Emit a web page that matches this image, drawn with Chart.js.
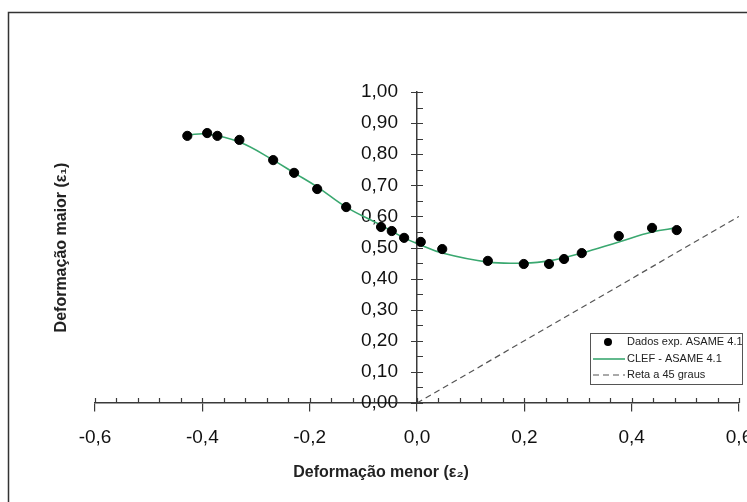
<!DOCTYPE html>
<html>
<head>
<meta charset="utf-8">
<script src="https://cdn.jsdelivr.net/npm/chart.js@4"></script>
<style>
  body { margin: 0; background: #fff; }
  #wrap { width: 747px; height: 502px; }
</style>
</head>
<body>
<div id="wrap"><canvas id="flcChart" width="747" height="502"></canvas></div>
<script>
// dados
const expX = [-0.428, -0.391, -0.372, -0.331, -0.268, -0.229, -0.186, -0.132, -0.067, -0.047, -0.024, 0.007, 0.047, 0.132, 0.199, 0.246, 0.274, 0.307, 0.376, 0.438, 0.484];
const expY = [0.859, 0.868, 0.859, 0.846, 0.781, 0.740, 0.688, 0.630, 0.566, 0.553, 0.531, 0.518, 0.495, 0.457, 0.447, 0.447, 0.463, 0.482, 0.537, 0.563, 0.556];

const clefX = [-0.428, -0.391, -0.331, -0.268, -0.229, -0.186, -0.132, -0.067, -0.024, 0.007, 0.047, 0.132, 0.199, 0.246, 0.307, 0.376, 0.438, 0.484];
const clefY = [0.862, 0.865, 0.839, 0.781, 0.740, 0.695, 0.630, 0.572, 0.531, 0.508, 0.482, 0.453, 0.450, 0.457, 0.482, 0.518, 0.550, 0.563];

const retaX = [0, 0.6];
const retaY = [0, 0.6];

const xTicks = [-0.6, -0.4, -0.2, 0, 0.2, 0.4, 0.6];
const yTicks = [0, 0.1, 0.2, 0.3, 0.4, 0.5, 0.6, 0.7, 0.8, 0.9, 1.0];

const labels = ["Dados exp. ASAME 4.1", "CLEF - ASAME 4.1", "Reta a 45 graus"];

const pts = (xs, ys) => xs.map((x, i) => ({ x: x, y: ys[i] }));
const virg = (v, d) => (Math.abs(v) < 1e-9 ? 0 : v).toFixed(d).replace(".", ",");

const AXIS = "#3a3a3a";
const FONT = "'Liberation Sans', Arial, sans-serif";

// moldura, títulos dos eixos, ticks menores e legenda
const extras = {
  id: "extras",
  beforeDraw(chart) {
    const c = chart.ctx;
    c.save();
    c.fillStyle = "#fff";
    c.fillRect(0, 0, chart.width, chart.height);
    c.strokeStyle = "#333";
    c.lineWidth = 1.5;
    c.strokeRect(8.5, 12.5, 800, 600);
    c.restore();
  },
  afterDraw(chart) {
    const c = chart.ctx;
    const sx = chart.scales.x, sy = chart.scales.y;
    const x0 = sx.getPixelForValue(0), y0 = sy.getPixelForValue(0);
    c.save();
    c.strokeStyle = AXIS;
    c.lineWidth = 1.2;
    c.beginPath();
    for (let k = 0; k <= 30; k++) {
      const px = Math.round(sx.getPixelForValue(-0.6 + k * 0.04)) + 0.5;
      c.moveTo(px, y0);
      c.lineTo(px, y0 - 5);
    }
    for (let k = 0; k <= 20; k++) {
      const py = Math.round(sy.getPixelForValue(k * 0.05)) + 0.5;
      c.moveTo(k % 2 === 0 ? x0 - 6 : x0, py);
      c.lineTo(x0 + 6, py);
    }
    c.stroke();

    // títulos dos eixos
    c.fillStyle = "#222";
    c.font = "bold 16px " + FONT;
    c.textAlign = "center";
    c.textBaseline = "middle";
    c.fillText("Deformação menor (ε₂)", 381, 473);
    c.translate(62, (chart.chartArea.top + chart.chartArea.bottom) / 2);
    c.rotate(-Math.PI / 2);
    c.fillText("Deformação maior (ε₁)", 0, 0);
    c.restore();

    // legenda
    const ds = chart.data.datasets;
    const bx = 590.5, by = 333.5, bw = 152, bh = 51;
    c.save();
    c.fillStyle = "#fff";
    c.fillRect(bx, by, bw, bh);
    c.strokeStyle = "#555";
    c.lineWidth = 1;
    c.strokeRect(bx, by, bw, bh);
    c.font = "11px " + FONT;
    c.textBaseline = "middle";
    const rows = [342, 359, 375];
    ds.forEach((d, i) => {
      const ry = rows[i];
      if (d.showLine === false) {
        c.beginPath();
        c.arc(608, ry, 4, 0, Math.PI * 2);
        c.fillStyle = d.pointBackgroundColor;
        c.fill();
      } else {
        c.beginPath();
        c.strokeStyle = d.borderColor;
        c.lineWidth = d.borderWidth;
        c.setLineDash(d.borderDash || []);
        c.moveTo(593, ry);
        c.lineTo(625, ry);
        c.stroke();
        c.setLineDash([]);
      }
      c.fillStyle = "#222";
      c.fillText(d.label, 627, ry);
    });
    c.restore();
  }
};

new Chart(document.getElementById("flcChart"), {
  type: "scatter",
  data: {
    datasets: [
      {
        label: labels[0],
        data: pts(expX, expY),
        showLine: false,
        pointRadius: 4.6,
        pointBackgroundColor: "#000",
        pointBorderColor: "#000",
        order: 0
      },
      {
        label: labels[1],
        data: pts(clefX, clefY),
        showLine: true,
        borderColor: "#3aa870",
        borderWidth: 1.6,
        pointRadius: 0,
        tension: 0.4,
        order: 1
      },
      {
        label: labels[2],
        data: pts(retaX, retaY),
        showLine: true,
        borderColor: "#555",
        borderWidth: 1.2,
        borderDash: [6, 4],
        pointRadius: 0,
        order: 2
      }
    ]
  },
  options: {
    responsive: false,
    animation: false,
    layout: { padding: { left: 95, right: 8, top: 92, bottom: 99 } },
    plugins: { legend: { display: false }, tooltip: { enabled: false } },
    scales: {
      x: {
        type: "linear",
        position: { y: 0 },
        min: -0.6,
        max: 0.6,
        afterBuildTicks: (s) => { s.ticks = xTicks.map(v => ({ value: v })); },
        afterFit: (s) => { s.paddingLeft = 0; s.paddingRight = 0; },
        ticks: {
          callback: (v) => virg(v, 1),
          color: "#111",
          padding: 15,
          maxRotation: 0,
          autoSkip: false,
          font: { family: FONT, size: 19 }
        },
        grid: { drawOnChartArea: false, tickLength: 8, color: AXIS, lineWidth: 1.2 },
        border: { color: AXIS, width: 1.5 }
      },
      y: {
        type: "linear",
        position: { x: 0 },
        min: 0,
        max: 1,
        afterBuildTicks: (s) => { s.ticks = yTicks.map(v => ({ value: v })); },
        afterFit: (s) => { s.paddingTop = 0; s.paddingBottom = 0; },
        ticks: {
          // eixo centrado: o Chart.js cola o rótulo ao eixo, daí o espaço no fim
          callback: (v) => virg(v, 2) + "\u2002\u2002",
          color: "#111",
          autoSkip: false,
          font: { family: FONT, size: 19 }
        },
        grid: { drawOnChartArea: false, drawTicks: false },
        border: { color: AXIS, width: 1.5 }
      }
    }
  },
  plugins: [extras]
});
</script>
</body>
</html>
